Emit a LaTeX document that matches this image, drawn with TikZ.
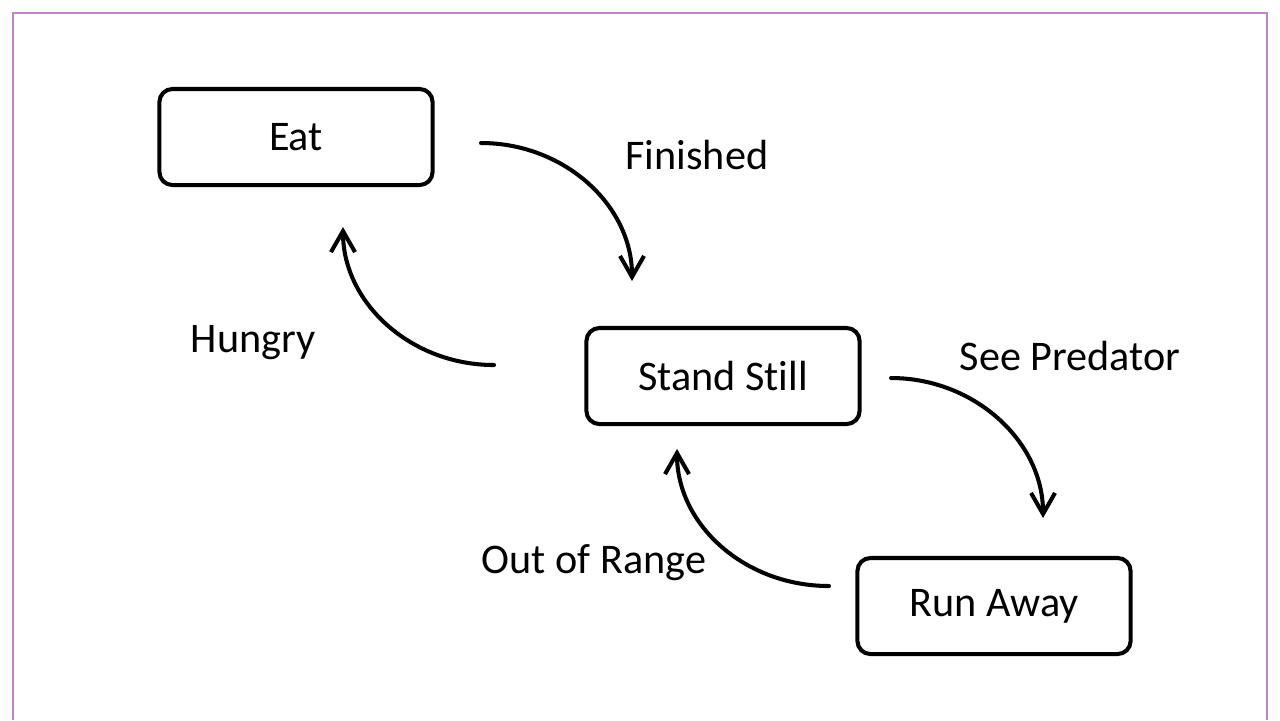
\documentclass[tikz,border=0pt]{standalone}
\usepackage{fontspec}
\setmainfont[Ligatures={NoCommon}]{Carlito}
\usetikzlibrary{arrows.meta}
\definecolor{framepurple}{HTML}{BA86C4}
\tikzset{
  state/.style={draw=black, line width=1.15pt, rounded corners=1.3mm, minimum width=27.3mm, minimum height=9.6mm, font=\fontsize{12}{14}\selectfont, inner sep=0pt},
  trans/.style={draw=black, line width=1.15pt, line cap=round, -{Straight Barb[length=2.1mm,width=2.4mm,line width=1.15pt]}},
  lbl/.style={font=\fontsize{12}{14}\selectfont, inner sep=0pt}
}
\begin{document}
\begin{tikzpicture}[x=0.01cm,y=-0.01cm]
\useasboundingbox (0,0) rectangle (1280,720);
\fill[white] (0,0) rectangle (1280,720);
\draw[framepurple, line width=0.8pt] (13,720) -- (13,13) -- (1267,13) -- (1267,720);

\node[state] (eat) at (296,137) {\raisebox{-1.5pt}{Eat}};
\node[state] (stand) at (723,376) {\raisebox{-0.5pt}{Stand Still}};
\node[state] (run) at (994,606) {\raisebox{-1pt}{Run Away}};

\coordinate (f1) at (481,143);
\coordinate (f2) at (632,281);
\coordinate (h1) at (494,365);
\coordinate (h2) at (343,227);
\coordinate (s1) at (891,378);
\coordinate (s2) at (1043,518);
\coordinate (o1) at (829,586);
\coordinate (o2) at (677,449);

\draw[trans] (f1) .. controls (564,143) and (632,205) .. (f2);
\draw[trans] (h1) .. controls (411,365) and (343,303) .. (h2);
\draw[trans] (s1) .. controls (974,378) and (1043,441) .. (s2);
\draw[trans] (o1) .. controls (745,586) and (677,525) .. (o2);

\node[lbl] (lf) at (697,155) {Finished};
\node[lbl] (lh) at (253,343) {Hungry};
\node[lbl] (ls) at (1070,356) {See Predator};
\node[lbl] (lo) at (594,563) {Out of Range};
\end{tikzpicture}
\end{document}
